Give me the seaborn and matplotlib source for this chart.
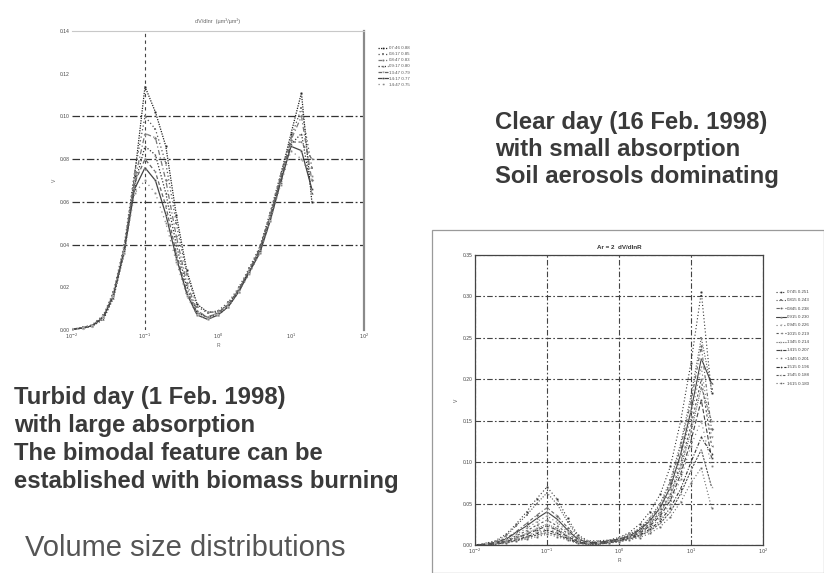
import matplotlib
matplotlib.use("Agg")
import matplotlib.pyplot as plt
import numpy as np
import pandas as pd
import seaborn as sns
from matplotlib.patches import Rectangle
from matplotlib.ticker import NullLocator, FixedLocator, FixedFormatter

sns.set_theme(style="white")
plt.rcParams['font.family'] = ['Liberation Sans', 'DejaVu Sans']

# particle radius grid (um)
radius = [0.010, 0.014, 0.019, 0.027, 0.037, 0.052, 0.072, 0.100, 0.139, 0.193,
          0.268, 0.373, 0.518, 0.720, 1.00, 1.39, 1.93, 2.68, 3.73, 5.18,
          7.20, 10.0, 13.9, 19.3]

# 1 Feb 1998 (turbid day) retrievals, dV/dlnr
turbid_labels = ["07:46 0.88", "08:17 0.85", "08:47 0.83", "09:17 0.80",
                 "13:47 0.79", "14:17 0.77", "14:47 0.75"]
turbid_1 = [0.0004, 0.001, 0.002, 0.006, 0.016, 0.038, 0.072, 0.114, 0.102, 0.086, 0.054, 0.028,
            0.012, 0.0084, 0.0084, 0.012, 0.019, 0.028, 0.038, 0.054, 0.072, 0.092, 0.111, 0.060]
turbid_2 = [0.0004, 0.0012, 0.0025, 0.007, 0.018, 0.040, 0.074, 0.100, 0.094, 0.078, 0.050, 0.026,
            0.011, 0.008, 0.009, 0.013, 0.020, 0.029, 0.039, 0.055, 0.073, 0.090, 0.104, 0.076]
turbid_3 = [0.0003, 0.001, 0.002, 0.006, 0.017, 0.039, 0.070, 0.092, 0.090, 0.070, 0.044, 0.022,
            0.009, 0.006, 0.008, 0.012, 0.019, 0.028, 0.037, 0.053, 0.071, 0.089, 0.100, 0.070]
turbid_4 = [0.0003, 0.0008, 0.0018, 0.005, 0.015, 0.036, 0.068, 0.086, 0.082, 0.064, 0.040, 0.020,
            0.008, 0.006, 0.007, 0.011, 0.018, 0.027, 0.037, 0.052, 0.070, 0.087, 0.092, 0.064]
turbid_5 = [0.0004, 0.001, 0.0022, 0.0065, 0.017, 0.037, 0.069, 0.080, 0.074, 0.058, 0.036, 0.018,
            0.008, 0.006, 0.008, 0.012, 0.019, 0.028, 0.038, 0.053, 0.071, 0.088, 0.088, 0.080]
turbid_6 = [0.0003, 0.0009, 0.002, 0.006, 0.016, 0.037, 0.066, 0.076, 0.070, 0.054, 0.034, 0.017,
            0.007, 0.005, 0.007, 0.011, 0.018, 0.027, 0.036, 0.051, 0.069, 0.086, 0.084, 0.066]
turbid_7 = [0.0004, 0.001, 0.0021, 0.0062, 0.016, 0.036, 0.064, 0.070, 0.064, 0.050, 0.032, 0.016,
            0.007, 0.005, 0.007, 0.011, 0.018, 0.026, 0.036, 0.051, 0.068, 0.084, 0.080, 0.072]

# 16 Feb 1998 (clear day) retrievals, dV/dlnr
clear_labels = ["0745 0.251", "0815 0.243", "0845 0.238", "0915 0.230",
                "0945 0.226", "1015 0.219", "1345 0.214", "1415 0.207",
                "1445 0.201", "1515 0.196", "1545 0.188", "1615 0.180"]
clear_1 = [0.000, 0.002, 0.005, 0.013, 0.025, 0.040, 0.056, 0.070, 0.055, 0.032, 0.012, 0.005,
           0.005, 0.006, 0.009, 0.015, 0.025, 0.040, 0.061, 0.095, 0.150, 0.220, 0.305, 0.183]
clear_2 = [0.000, 0.001, 0.004, 0.011, 0.023, 0.036, 0.050, 0.063, 0.049, 0.028, 0.010, 0.004,
           0.004, 0.005, 0.008, 0.013, 0.020, 0.033, 0.050, 0.078, 0.123, 0.180, 0.250, 0.188]
clear_3 = [0.000, 0.001, 0.003, 0.008, 0.016, 0.026, 0.036, 0.045, 0.035, 0.021, 0.008, 0.003,
           0.003, 0.005, 0.007, 0.012, 0.019, 0.031, 0.048, 0.075, 0.118, 0.173, 0.240, 0.140]
clear_4 = [0.000, 0.001, 0.003, 0.007, 0.015, 0.023, 0.032, 0.040, 0.031, 0.018, 0.007, 0.003,
           0.003, 0.005, 0.007, 0.011, 0.018, 0.029, 0.045, 0.070, 0.110, 0.162, 0.225, 0.195]
clear_5 = [0.000, 0.001, 0.002, 0.006, 0.013, 0.020, 0.028, 0.035, 0.027, 0.016, 0.006, 0.002,
           0.002, 0.004, 0.006, 0.011, 0.017, 0.028, 0.043, 0.067, 0.105, 0.155, 0.215, 0.130]
clear_6 = [0.000, 0.001, 0.002, 0.005, 0.011, 0.017, 0.024, 0.030, 0.023, 0.014, 0.005, 0.002,
           0.002, 0.004, 0.006, 0.010, 0.016, 0.026, 0.040, 0.062, 0.098, 0.144, 0.200, 0.120]
clear_7 = [0.000, 0.001, 0.002, 0.005, 0.009, 0.014, 0.020, 0.025, 0.020, 0.011, 0.004, 0.002,
           0.002, 0.004, 0.006, 0.010, 0.015, 0.025, 0.038, 0.059, 0.093, 0.137, 0.190, 0.150]
clear_8 = [0.000, 0.000, 0.002, 0.004, 0.008, 0.013, 0.018, 0.023, 0.018, 0.010, 0.004, 0.001,
           0.002, 0.003, 0.005, 0.009, 0.014, 0.023, 0.035, 0.054, 0.086, 0.126, 0.175, 0.105]
clear_9 = [0.000, 0.000, 0.001, 0.004, 0.007, 0.011, 0.016, 0.020, 0.016, 0.009, 0.003, 0.001,
           0.002, 0.003, 0.005, 0.008, 0.013, 0.021, 0.032, 0.050, 0.080, 0.120, 0.150, 0.095]
clear_10 = [0.000, 0.000, 0.001, 0.003, 0.006, 0.010, 0.014, 0.018, 0.014, 0.008, 0.003, 0.001,
            0.001, 0.003, 0.005, 0.008, 0.012, 0.019, 0.029, 0.045, 0.068, 0.100, 0.130, 0.110]
clear_11 = [0.000, 0.000, 0.001, 0.003, 0.005, 0.009, 0.012, 0.015, 0.012, 0.007, 0.002, 0.001,
            0.001, 0.003, 0.004, 0.007, 0.011, 0.017, 0.026, 0.040, 0.062, 0.090, 0.115, 0.070]
clear_12 = [0.000, 0.000, 0.001, 0.002, 0.005, 0.007, 0.010, 0.013, 0.010, 0.006, 0.002, 0.001,
            0.001, 0.002, 0.004, 0.006, 0.009, 0.014, 0.022, 0.034, 0.052, 0.075, 0.093, 0.045]

x_ticks = [0.01, 0.1, 1, 10, 100]
x_ticklabels = [r"$10^{-2}$", r"$10^{-1}$", r"$10^{0}$", r"$10^{1}$", r"$10^{2}$"]
turbid_yticks = [0.00, 0.02, 0.04, 0.06, 0.08, 0.10, 0.12, 0.14]
clear_yticks = [0.00, 0.05, 0.10, 0.15, 0.20, 0.25, 0.30, 0.35]


def long_table(series, labels):
    rows = []
    for vals, lab in zip(series, labels):
        for r, v in zip(radius, vals):
            rows.append((r, v, lab))
    return pd.DataFrame(rows, columns=["r", "dv", "time"])


turbid_df = long_table([turbid_1, turbid_2, turbid_3, turbid_4, turbid_5, turbid_6, turbid_7],
                       turbid_labels)
clear_df = long_table([clear_1, clear_2, clear_3, clear_4, clear_5, clear_6, clear_7, clear_8,
                       clear_9, clear_10, clear_11, clear_12], clear_labels)

W, H = 824, 573
fig = plt.figure(figsize=(W / 100, H / 100), dpi=100)
fig.patch.set_facecolor("white")


def fx(px):
    return px / W


def fy(py):
    return 1 - py / H


tick_kw = dict(direction="in", length=2, width=0.5, labelsize=3.6, colors="#555",
               labelcolor="#444", pad=1.5)

# ---- turbid day panel ----
ax1 = fig.add_axes([fx(72), fy(330), fx(364) - fx(72), fy(31) - fy(330)])
sns.lineplot(data=turbid_df, x="r", y="dv", hue="time", style="time",
             palette=["#222", "#555", "#777", "#333", "#666", "#444", "#888"],
             markers=["o", "s", "D", "^", "v", "p", "h"],
             dashes=[(1, 1), (1, 2), (4, 2, 1, 2), (1, 1.5), (3, 2), "", (1, 3)],
             markersize=1.8, markeredgewidth=0.2, linewidth=0.9,
             estimator=None, sort=False, ax=ax1)
ax1.set_xscale("log")
ax1.set_xlim(0.01, 100)
ax1.set_ylim(0, 0.14)
ax1.xaxis.set_major_locator(FixedLocator(x_ticks))
ax1.xaxis.set_major_formatter(FixedFormatter(x_ticklabels))
ax1.xaxis.set_minor_locator(NullLocator())
ax1.set_yticks(turbid_yticks)
ax1.set_yticklabels([f"{v:.2f}" for v in turbid_yticks])
ax1.tick_params(**tick_kw)
ax1.grid(True, axis="y", color="#333", linewidth=0.9, linestyle=(0, (6, 2, 1.5, 2)))
ax1.grid(True, axis="x", color="#444", linewidth=0.8, linestyle=(0, (3, 3)))
for v, gl in zip(turbid_yticks, ax1.get_ygridlines()):
    gl.set_visible(v in (0.04, 0.06, 0.08, 0.10))
for v, gl in zip(x_ticks, ax1.get_xgridlines()):
    gl.set_visible(v == 0.1)
for side in ("left", "bottom"):
    ax1.spines[side].set_visible(False)
ax1.spines["top"].set_color("#c8c8c8")
ax1.spines["top"].set_linestyle((0, (1, 1)))
ax1.spines["top"].set_linewidth(0.8)
ax1.spines["right"].set_color("#8a8a8a")
ax1.spines["right"].set_linewidth(1.6)
ax1.set_xlabel("R", fontsize=3.6, color="#666", labelpad=1)
ax1.set_ylabel("V", fontsize=3.6, color="#666", labelpad=2)
ax1.set_title("dV/dlnr  (\u00b5m\u00b3/\u00b5m\u00b2)", fontsize=4, color="#666", pad=6)
ax1.legend(loc="upper left", bbox_to_anchor=(fx(378), fy(46)), bbox_transform=fig.transFigure,
           fontsize=3.2, frameon=False, handlelength=2.2, handletextpad=0.3,
           labelspacing=0.45, borderpad=0, borderaxespad=0, markerscale=0.8)
for t in ax1.get_legend().get_texts():
    t.set_color("#555")

# ---- clear day panel ----
fig.patches.append(Rectangle((fx(432), fy(573)), fx(824) - fx(432), fy(230) - fy(573),
                             transform=fig.transFigure, fill=False, edgecolor="#9a9a9a",
                             linewidth=0.9))
ax2 = fig.add_axes([fx(475), fy(545), fx(763) - fx(475), fy(255) - fy(545)])
sns.lineplot(data=clear_df, x="r", y="dv", hue="time", style="time",
             palette=["#333", "#555", "#666", "#444", "#777", "#555", "#666", "#444",
                      "#777", "#333", "#555", "#666"],
             markers=["o", "s", "D", "^", "v", "<", ">", "p", "h", "d", "*", "8"],
             dashes=[(1, 2), (1, 1.5), (3, 2, 1, 2), "", (1, 2.5), (2, 2), (1, 1),
                     (4, 2), (1, 3), (3, 1.5, 1, 1.5), (2, 1), (1, 2)],
             markersize=1.8, markeredgewidth=0.2, linewidth=0.8,
             estimator=None, sort=False, ax=ax2)
ax2.set_xscale("log")
ax2.set_xlim(0.01, 100)
ax2.set_ylim(0, 0.35)
ax2.xaxis.set_major_locator(FixedLocator(x_ticks))
ax2.xaxis.set_major_formatter(FixedFormatter(x_ticklabels))
ax2.xaxis.set_minor_locator(NullLocator())
ax2.set_yticks(clear_yticks)
ax2.set_yticklabels([f"{v:.2f}" for v in clear_yticks])
ax2.tick_params(**tick_kw)
ax2.grid(True, which="major", color="#444", linewidth=0.8, linestyle=(0, (5, 2, 1.5, 2)))
for s in ax2.spines.values():
    s.set_color("#444")
    s.set_linewidth(0.9)
ax2.set_xlabel("R", fontsize=3.6, color="#555", labelpad=1)
ax2.set_ylabel("V", fontsize=3.6, color="#555", labelpad=3)
ax2.set_title("Ar = 2  dV/dlnR", fontsize=4.5, color="#333", pad=4, fontweight="bold")
ax2.legend(loc="upper left", bbox_to_anchor=(fx(776), fy(290)), bbox_transform=fig.transFigure,
           fontsize=3.2, frameon=False, handlelength=2.2, handletextpad=0.3,
           labelspacing=0.95, borderpad=0, borderaxespad=0, markerscale=0.8)
for t in ax2.get_legend().get_texts():
    t.set_color("#444")

# ---- annotations ----
bold_kw = dict(fontsize=17.2, fontweight="bold", color="#3a3a3a", va="baseline", ha="left")
for i, line in enumerate(["Clear day (16 Feb. 1998)", "with small absorption",
                          "Soil aerosols dominating"]):
    fig.text(fx(495), fy(129 + 27 * i), line, **bold_kw)
for i, line in enumerate(["Turbid day (1 Feb. 1998)", "with large absorption",
                          "The bimodal feature can be",
                          "established with biomass burning"]):
    fig.text(fx(14), fy(404 + 28 * i), line, **bold_kw)
fig.text(fx(25), fy(556), "Volume size distributions", fontsize=21, color="#555",
         va="baseline", ha="left")

fig.savefig("out.png", dpi=100, facecolor="white")
